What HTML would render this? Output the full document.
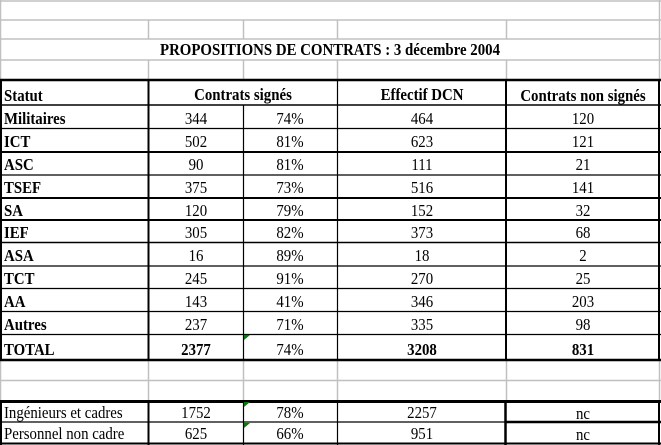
<!DOCTYPE html>
<html><head><meta charset="utf-8"><style>
html,body{margin:0;padding:0;background:#fff;width:661px;height:445px;overflow:hidden}
svg text{font-family:"Liberation Serif",serif;font-size:16.5px;fill:#000;transform-box:fill-box;transform-origin:center;transform:scaleX(0.9)}
svg text.l{transform-origin:left center}
svg text.b{font-weight:bold}
</style></head><body>
<svg width="661" height="445" xmlns="http://www.w3.org/2000/svg">
<g stroke="#c0c0c0" stroke-width="1.5">
<line x1="0" y1="1" x2="661" y2="1"/>
<line x1="0" y1="20" x2="661" y2="20"/>
<line x1="0" y1="39" x2="661" y2="39"/>
<line x1="0" y1="60" x2="661" y2="60"/>
<line x1="0" y1="380.5" x2="661" y2="380.5"/>
<line x1="659.5" y1="0" x2="659.5" y2="80"/>
<line x1="659.5" y1="360" x2="659.5" y2="401"/>
<line x1="148.5" y1="20" x2="148.5" y2="39"/>
<line x1="243.5" y1="20" x2="243.5" y2="39"/>
<line x1="337.5" y1="20" x2="337.5" y2="39"/>
<line x1="506.5" y1="20" x2="506.5" y2="39"/>
<line x1="148.5" y1="60" x2="148.5" y2="80"/>
<line x1="243.5" y1="60" x2="243.5" y2="80"/>
<line x1="337.5" y1="60" x2="337.5" y2="80"/>
<line x1="506.5" y1="60" x2="506.5" y2="80"/>
<line x1="148.5" y1="360" x2="148.5" y2="401"/>
<line x1="243.5" y1="360" x2="243.5" y2="401"/>
<line x1="337.5" y1="360" x2="337.5" y2="401"/>
<line x1="506.5" y1="360" x2="506.5" y2="401"/>
<line x1="0.5" y1="0" x2="0.5" y2="445"/>
</g>
<g stroke="#000">
<line x1="0" y1="80" x2="661" y2="80" stroke-width="2.5"/>
<line x1="0" y1="105" x2="661" y2="105" stroke-width="1.5"/>
<line x1="0" y1="128.5" x2="661" y2="128.5" stroke-width="1.2"/>
<line x1="0" y1="152" x2="661" y2="152" stroke-width="2"/>
<line x1="0" y1="175" x2="661" y2="175" stroke-width="1.2"/>
<line x1="0" y1="198" x2="661" y2="198" stroke-width="2"/>
<line x1="0" y1="220" x2="661" y2="220" stroke-width="2"/>
<line x1="0" y1="242.5" x2="661" y2="242.5" stroke-width="1.5"/>
<line x1="0" y1="266" x2="661" y2="266" stroke-width="1.2"/>
<line x1="0" y1="288.5" x2="661" y2="288.5" stroke-width="1.2"/>
<line x1="0" y1="311.5" x2="661" y2="311.5" stroke-width="1.2"/>
<line x1="0" y1="334.5" x2="661" y2="334.5" stroke-width="1.2"/>
<line x1="0" y1="360" x2="661" y2="360" stroke-width="2.5"/>
<line x1="1" y1="79" x2="1" y2="361" stroke-width="2"/>
<line x1="148.5" y1="79" x2="148.5" y2="361" stroke-width="2"/>
<line x1="243.5" y1="105" x2="243.5" y2="361" stroke-width="1.2"/>
<line x1="337.5" y1="79" x2="337.5" y2="361" stroke-width="1.2"/>
<line x1="506" y1="79" x2="506" y2="361" stroke-width="2"/>
<line x1="659" y1="79" x2="659" y2="361" stroke-width="2"/>
<line x1="0" y1="401.5" x2="661" y2="401.5" stroke-width="3"/>
<line x1="0" y1="422" x2="661" y2="422" stroke-width="1.2"/>
<line x1="505" y1="422" x2="661" y2="422" stroke-width="2.5"/>
<line x1="0" y1="443.5" x2="661" y2="443.5" stroke-width="2"/>
<line x1="1" y1="400" x2="1" y2="445" stroke-width="2"/>
<line x1="148.5" y1="400" x2="148.5" y2="445" stroke-width="2"/>
<line x1="243.5" y1="400" x2="243.5" y2="445" stroke-width="1.2"/>
<line x1="337.5" y1="400" x2="337.5" y2="445" stroke-width="1.2"/>
<line x1="505.5" y1="400" x2="505.5" y2="445" stroke-width="2.5"/>
<line x1="659" y1="400" x2="659" y2="445" stroke-width="2"/>
</g>
<g fill="#008000">
<polygon points="244,335 250,335 244,340"/>
<polygon points="244,402 250,402 244,407"/>
<polygon points="244,423 250,423 244,428"/>
</g>
<text class="b" x="330" y="55" text-anchor="middle">PROPOSITIONS DE CONTRATS : 3 décembre 2004</text>
<text class="b l" x="4" y="101">Statut</text>
<text class="b" x="243" y="100" text-anchor="middle">Contrats signés</text>
<text class="b" x="422" y="100" text-anchor="middle">Effectif DCN</text>
<text class="b" x="583" y="101" text-anchor="middle">Contrats non signés</text>
<g>
<text class="b l" x="4" y="124">Militaires</text><text x="196" y="124" text-anchor="middle">344</text><text x="290" y="124" text-anchor="middle">74%</text><text x="422" y="124" text-anchor="middle">464</text><text x="583" y="124" text-anchor="middle">120</text>
<text class="b l" x="4" y="147">ICT</text><text x="196" y="147" text-anchor="middle">502</text><text x="290" y="147" text-anchor="middle">81%</text><text x="422" y="147" text-anchor="middle">623</text><text x="583" y="147" text-anchor="middle">121</text>
<text class="b l" x="4" y="170">ASC</text><text x="196" y="170" text-anchor="middle">90</text><text x="290" y="170" text-anchor="middle">81%</text><text x="422" y="170" text-anchor="middle">111</text><text x="583" y="170" text-anchor="middle">21</text>
<text class="b l" x="4" y="193">TSEF</text><text x="196" y="193" text-anchor="middle">375</text><text x="290" y="193" text-anchor="middle">73%</text><text x="422" y="193" text-anchor="middle">516</text><text x="583" y="193" text-anchor="middle">141</text>
<text class="b l" x="4" y="216">SA</text><text x="196" y="216" text-anchor="middle">120</text><text x="290" y="216" text-anchor="middle">79%</text><text x="422" y="216" text-anchor="middle">152</text><text x="583" y="216" text-anchor="middle">32</text>
<text class="b l" x="4" y="238">IEF</text><text x="196" y="238" text-anchor="middle">305</text><text x="290" y="238" text-anchor="middle">82%</text><text x="422" y="238" text-anchor="middle">373</text><text x="583" y="238" text-anchor="middle">68</text>
<text class="b l" x="4" y="261">ASA</text><text x="196" y="261" text-anchor="middle">16</text><text x="290" y="261" text-anchor="middle">89%</text><text x="422" y="261" text-anchor="middle">18</text><text x="583" y="261" text-anchor="middle">2</text>
<text class="b l" x="4" y="284">TCT</text><text x="196" y="284" text-anchor="middle">245</text><text x="290" y="284" text-anchor="middle">91%</text><text x="422" y="284" text-anchor="middle">270</text><text x="583" y="284" text-anchor="middle">25</text>
<text class="b l" x="4" y="307">AA</text><text x="196" y="307" text-anchor="middle">143</text><text x="290" y="307" text-anchor="middle">41%</text><text x="422" y="307" text-anchor="middle">346</text><text x="583" y="307" text-anchor="middle">203</text>
<text class="b l" x="4" y="330">Autres</text><text x="196" y="330" text-anchor="middle">237</text><text x="290" y="330" text-anchor="middle">71%</text><text x="422" y="330" text-anchor="middle">335</text><text x="583" y="330" text-anchor="middle">98</text>
<text class="b l" x="4" y="355">TOTAL</text><text class="b" x="196" y="355" text-anchor="middle">2377</text><text x="290" y="355" text-anchor="middle">74%</text><text class="b" x="422" y="355" text-anchor="middle">3208</text><text class="b" x="583" y="355" text-anchor="middle">831</text>
<text class="l" x="4" y="418">Ingénieurs et cadres</text><text x="196" y="418" text-anchor="middle">1752</text><text x="290" y="418" text-anchor="middle">78%</text><text x="422" y="418" text-anchor="middle">2257</text><text x="583" y="419" text-anchor="middle">nc</text>
<text class="l" x="4" y="439">Personnel non cadre</text><text x="196" y="439" text-anchor="middle">625</text><text x="290" y="439" text-anchor="middle">66%</text><text x="422" y="439" text-anchor="middle">951</text><text x="583" y="440" text-anchor="middle">nc</text>
</g>
</svg>
</body></html>
